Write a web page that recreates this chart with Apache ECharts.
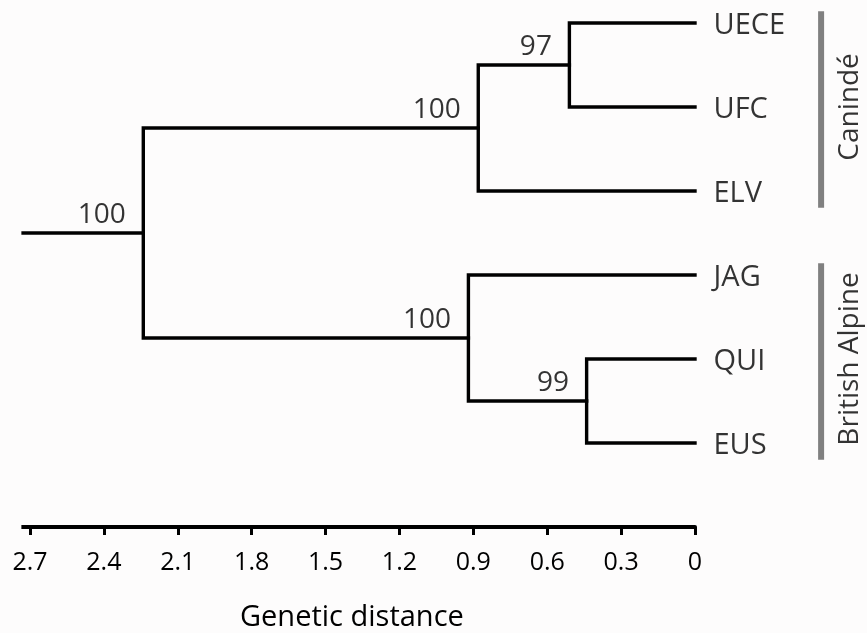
<!DOCTYPE html>
<html><head><meta charset="utf-8">
<style>html,body{margin:0;padding:0;background:#fdfcfc}#chart{width:867px;height:633px}</style>
<script src="https://cdn.jsdelivr.net/npm/echarts@6.0.0/dist/echarts.min.js"></script>
</head><body><div id="chart"></div>
<script>
// ---- data ----
const leaves = ['UECE', 'UFC', 'ELV', 'JAG', 'QUI', 'EUS'];
const nodeNames = ['n1', 'n2', 'n3', 'n4', 'root'];
const nodeChildren = [['UECE', 'UFC'], ['n1', 'ELV'], ['QUI', 'EUS'], ['JAG', 'n3'], ['n2', 'n4']];
const nodeHeights = [0.51, 0.88, 0.44, 0.92, 2.24];   // genetic distance of each join
const bootstrap = [97, 100, 99, 100, 100];
const rootStemStart = 2.735;
const axisMin = 0, axisMax = 2.7, axisInterval = 0.3;
const groupNames = ['Canindé', 'British Alpine'];
const groupMembers = [['UECE', 'UFC', 'ELV'], ['JAG', 'QUI', 'EUS']];
const axisTitle = 'Genetic distance';

// ---- layout / style (not data) ----
const FONT = 'Open Sans';
const FW = 500;
const INK = '#000000';
const GROUP_BAR_X = -0.512;
const BAR_TOP_PAD = 0.14, BAR_BOT_PAD = 0.2;
const AX_LEFT = 30, AX_RIGHT = 172, AX_TOP = 23, AX_BOTTOM = 106;
const TREE_XMAX = 2.74, TREE_XMIN = -0.62, TREE_YMIN = -0.2, TREE_YMAX = 6;
const W = 867;
const k = (W - AX_LEFT - AX_RIGHT) / (axisMax - axisMin);
const treeLeft = AX_LEFT - (TREE_XMAX - axisMax) * k;
const treeRight = AX_RIGHT - (axisMin - TREE_XMIN) * k;
const ky = (633 - AX_TOP - AX_BOTTOM) / 6;
const treeTop = AX_TOP - (0 - TREE_YMIN) * ky;

const pos = {};
leaves.forEach((l, i) => { pos[l] = { x: 0, y: i }; });
nodeNames.forEach((n, j) => {
  const [a, b] = nodeChildren[j];
  pos[n] = { x: nodeHeights[j], y: (pos[a].y + pos[b].y) / 2 };
});

const series = [];
const lineBase = { type: 'line', xAxisIndex: 0, yAxisIndex: 0, showSymbol: false, symbol: 'none', silent: true, animation: false };
nodeNames.forEach((n, j) => {
  const [a, b] = nodeChildren[j];
  const p = pos[n], pa = pos[a], pb = pos[b];
  series.push(Object.assign({}, lineBase, {
    data: [[pa.x, pa.y], [p.x, pa.y], [p.x, pb.y], [pb.x, pb.y]],
    lineStyle: { color: INK, width: 3.4, cap: 'square', join: 'miter' }
  }));
});
series.push(Object.assign({}, lineBase, {
  data: [[rootStemStart, pos.root.y], [pos.root.x, pos.root.y]],
  lineStyle: { color: INK, width: 3.4 }
}));
series.push(Object.assign({}, lineBase, {
  data: [[rootStemStart, 6], [axisMax, 6]],
  lineStyle: { color: INK, width: 4 }
}));
series.push({
  type: 'scatter', xAxisIndex: 0, yAxisIndex: 0, symbolSize: 1, itemStyle: { color: 'rgba(0,0,0,0)' }, silent: true, animation: false,
  data: nodeNames.map((n, j) => ({ value: [pos[n].x, pos[n].y], bs: bootstrap[j] })),
  label: {
    show: true, position: [-17, -3], align: 'right', verticalAlign: 'bottom',
    formatter: p => String(p.data.bs), fontFamily: FONT, fontWeight: FW, fontSize: 28, color: INK
  }
});
series.push({
  type: 'scatter', xAxisIndex: 0, yAxisIndex: 0, symbolSize: 1, itemStyle: { color: 'rgba(0,0,0,0)' }, silent: true, animation: false,
  data: leaves.map(l => ({ value: [pos[l].x, pos[l].y], name: l })),
  label: {
    show: true, position: 'right', distance: 18, offset: [0, 3], formatter: p => p.name,
    fontFamily: FONT, fontWeight: FW, fontSize: 29, color: INK
  }
});
groupNames.forEach((g, gi) => {
  const ys = groupMembers[gi].map(m => pos[m].y);
  const y0 = Math.min(...ys) - BAR_TOP_PAD, y1 = Math.max(...ys) + BAR_BOT_PAD;
  series.push(Object.assign({}, lineBase, {
    data: [[GROUP_BAR_X, y0], [GROUP_BAR_X, y1]],
    lineStyle: { color: '#808080', width: 6, cap: 'butt' }
  }));
  series.push({
    type: 'scatter', xAxisIndex: 0, yAxisIndex: 0, symbolSize: 0, silent: true, animation: false,
    data: [{ value: [GROUP_BAR_X, (Math.min(...ys) + Math.max(...ys)) / 2], name: g }],
    label: {
      show: true, position: [29, 0], rotate: 90, align: 'center', verticalAlign: 'middle',
      formatter: p => p.name, fontFamily: FONT, fontWeight: FW, fontSize: 28, color: INK
    }
  });
});

const chart = echarts.init(document.getElementById('chart'), null, { renderer: 'canvas' });
chart.setOption({
  backgroundColor: '#fdfcfc',
  animation: false,
  title: {
    text: axisTitle, left: 235, top: 598,
    textStyle: { fontFamily: FONT, fontSize: 29, fontWeight: FW, color: INK }
  },
  grid: [
    { left: treeLeft, right: treeRight, top: treeTop, bottom: AX_BOTTOM, containLabel: false },
    { left: AX_LEFT, right: AX_RIGHT, top: AX_TOP, bottom: AX_BOTTOM, containLabel: false }
  ],
  xAxis: [
    { gridIndex: 0, type: 'value', inverse: true, min: TREE_XMIN, max: TREE_XMAX, show: false },
    {
      gridIndex: 1, type: 'value', inverse: true, min: axisMin, max: axisMax, interval: axisInterval,
      position: 'bottom', splitLine: { show: false },
      axisLine: { show: true, onZero: false, lineStyle: { color: INK, width: 4 } },
      axisTick: { show: true, length: 8, lineStyle: { color: INK, width: 3 } },
      axisLabel: {
        fontFamily: FONT, fontWeight: FW, fontSize: 25, color: INK, margin: 23,
        formatter: v => String(Math.round(v * 10) / 10)
      }
    }
  ],
  yAxis: [
    { gridIndex: 0, type: 'value', inverse: true, min: TREE_YMIN, max: TREE_YMAX, show: false },
    { gridIndex: 1, type: 'value', min: 0, max: 1, show: false }
  ],
  series: series
});
</script></body></html>
